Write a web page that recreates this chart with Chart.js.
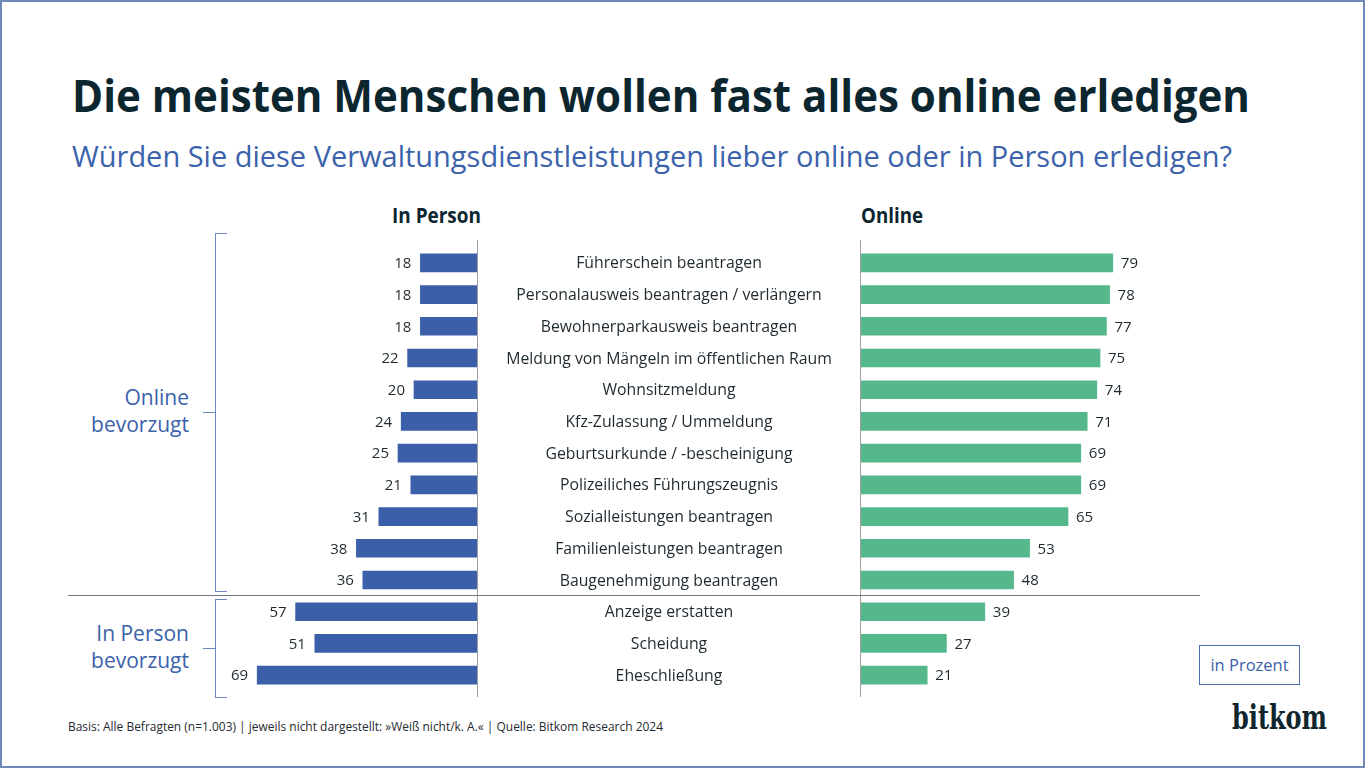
<!DOCTYPE html>
<html lang="de">
<head>
<meta charset="utf-8">
<title>Die meisten Menschen wollen fast alles online erledigen</title>
<script src="https://cdn.jsdelivr.net/npm/chart.js@4.4.1/dist/chart.umd.min.js"></script>
<style>
  html, body { margin: 0; padding: 0; }
  body {
    width: 1365px; height: 768px; position: relative; overflow: hidden;
    background: #fff; font-family: "Open Sans", sans-serif;
  }
  .frame {
    position: absolute; left: 0; top: 0; width: 1365px; height: 768px;
    box-sizing: border-box; border: 2px solid #7189ba; pointer-events: none;
  }
  .t { position: absolute; white-space: nowrap; line-height: 1; }
  #title { left: 72px; top: 72px; font-size: 45px; font-weight: 700; color: #0c2630; transform-origin: left top; }
  #subtitle { left: 72px; top: 141px; font-size: 29px; color: #3b62aa; transform-origin: left top; }
  .head { top: 203px; font-size: 22px; font-weight: 700; color: #0c2630; transform-origin: left top; }
  #hPerson { left: 392px; }
  #hOnline { left: 861px; }
  .group {
    position: absolute; right: 1176px; text-align: right; white-space: nowrap;
    font-size: 21px; line-height: 27px; color: #3b62aa;
  }
  #gOnline { top: 384px; }
  #gPerson { top: 620px; }
  .bracket {
    position: absolute; left: 215px; width: 12px; box-sizing: border-box;
    border: 1.5px solid #6a86bb; border-right: none;
  }
  .tick { position: absolute; left: 203px; width: 12px; height: 0; border-top: 1.5px solid #6a86bb; }
  #sep { position: absolute; left: 68px; top: 595px; width: 1132px; height: 0; border-top: 1.5px solid #6e7a82; }
  .wrap { position: absolute; top: 240px; height: 457px; }
  #leftWrap { left: 158px; width: 320px; }
  #rightWrap { left: 478px; width: 702px; }
  #unit {
    position: absolute; left: 1199px; top: 645px; width: 101px; height: 40px;
    box-sizing: border-box; border: 1.5px solid #4d6fb0; color: #3b62aa;
    font-size: 16.5px; line-height: 37px; text-align: center;
  }
  #logo {
    left: 1232px; top: 701px; font-family: "DejaVu Serif", serif; font-size: 33px;
    font-weight: 700; color: #10262e; transform-origin: left top;
  }
  #footer { left: 68px; top: 721px; font-size: 12.5px; color: #1f2a30; transform-origin: left top; }
</style>
</head>
<body>
<div class="t" id="title">Die meisten Menschen wollen fast alles online erledigen</div>
<div class="t" id="subtitle">Würden Sie diese Verwaltungsdienstleistungen lieber online oder in Person erledigen?</div>
<div class="t head" id="hPerson">In Person</div>
<div class="t head" id="hOnline">Online</div>

<div class="group" id="gOnline">Online<br>bevorzugt</div>
<div class="group" id="gPerson">In Person<br>bevorzugt</div>
<div class="bracket" style="top:233px;height:359px;"></div>
<div class="tick" style="top:412px;"></div>
<div class="bracket" style="top:599px;height:99px;"></div>
<div class="tick" style="top:648px;"></div>

<div class="wrap" id="leftWrap"><canvas id="leftChart"></canvas></div>
<div class="wrap" id="rightWrap"><canvas id="rightChart"></canvas></div>
<div id="sep"></div>

<div id="unit">in Prozent</div>
<div class="t" id="logo">bitkom</div>
<div class="t" id="footer">Basis: Alle Befragten (n=1.003) | jeweils nicht dargestellt: »Weiß nicht/k. A.« | Quelle: Bitkom Research 2024</div>
<div class="frame"></div>

<script>
// Data
const categories = [
  'Führerschein beantragen',
  'Personalausweis beantragen / verlängern',
  'Bewohnerparkausweis beantragen',
  'Meldung von Mängeln im öffentlichen Raum',
  'Wohnsitzmeldung',
  'Kfz-Zulassung / Ummeldung',
  'Geburtsurkunde / -bescheinigung',
  'Polizeiliches Führungszeugnis',
  'Sozialleistungen beantragen',
  'Familienleistungen beantragen',
  'Baugenehmigung beantragen',
  'Anzeige erstatten',
  'Scheidung',
  'Eheschließung'
];
const inPerson = [18, 18, 18, 22, 20, 24, 25, 21, 31, 38, 36, 57, 51, 69];
const online   = [79, 78, 77, 75, 74, 71, 69, 69, 65, 53, 48, 39, 27, 21];

const blue = '#3c5fa9';
const green = '#55b88c';
const axisGrey = '#a0a0a0';
const textDark = '#1f2a30';
const labelFont = '15px "Open Sans", sans-serif';

// value labels next to every bar + the zero line of the chart
const barDecor = {
  id: 'barDecor',
  afterDatasetsDraw(chart, args, opts) {
    const ctx = chart.ctx;
    const area = chart.chartArea;
    ctx.save();
    ctx.strokeStyle = axisGrey;
    ctx.lineWidth = 1;
    const x0 = opts.side === 'left' ? area.right - 0.5 : area.left + 0.5;
    ctx.beginPath();
    ctx.moveTo(x0, 0);
    ctx.lineTo(x0, chart.height);
    ctx.stroke();

    ctx.font = labelFont;
    ctx.fillStyle = textDark;
    ctx.textBaseline = 'middle';
    const meta = chart.getDatasetMeta(0);
    const values = chart.data.datasets[0].data;
    meta.data.forEach((bar, i) => {
      if (opts.side === 'left') {
        ctx.textAlign = 'right';
        ctx.fillText(values[i], bar.x - 9, bar.y + 1);
      } else {
        ctx.textAlign = 'left';
        ctx.fillText(values[i], bar.x + 8, bar.y + 1);
      }
    });

    // category names in the gap between the two bar blocks
    if (opts.side === 'right') {
      const yScale = chart.scales.y;
      ctx.textAlign = 'center';
      ctx.font = '15.8px "Open Sans", sans-serif';
      chart.data.labels.forEach((lab, i) => {
        ctx.fillText(lab, area.left - 191, yScale.getPixelForValue(i) + 1);
      });
    }
    ctx.restore();
  }
};

function barChart(id, values, color, side) {
  return new Chart(document.getElementById(id), {
    type: 'bar',
    data: {
      labels: categories,
      datasets: [{
        data: values,
        backgroundColor: color,
        barThickness: 18,
        borderWidth: 0
      }]
    },
    options: {
      indexAxis: 'y',
      responsive: true,
      maintainAspectRatio: false,
      animation: false,
      layout: { padding: { top: 7, bottom: 6, left: side === 'right' ? 382 : 0 } },
      scales: {
        x: { min: 0, max: 100, reverse: side === 'left', display: false },
        y: { display: false }
      },
      plugins: {
        legend: { display: false },
        tooltip: { enabled: false },
        barDecor: { side: side }
      }
    },
    plugins: [barDecor]
  });
}

function fit(id, width) {
  const el = document.getElementById(id);
  const w = el.getBoundingClientRect().width;
  el.style.transform = 'scaleX(' + (width / w) + ')';
}

document.fonts.ready.then(() => {
  barChart('leftChart', inPerson, blue, 'left');
  barChart('rightChart', online, green, 'right');
  fit('title', 1178);
  fit('subtitle', 1160);
  fit('hPerson', 89);
  fit('hOnline', 62);
  fit('footer', 595);
  fit('logo', 95);
});
</script>
</body>
</html>
